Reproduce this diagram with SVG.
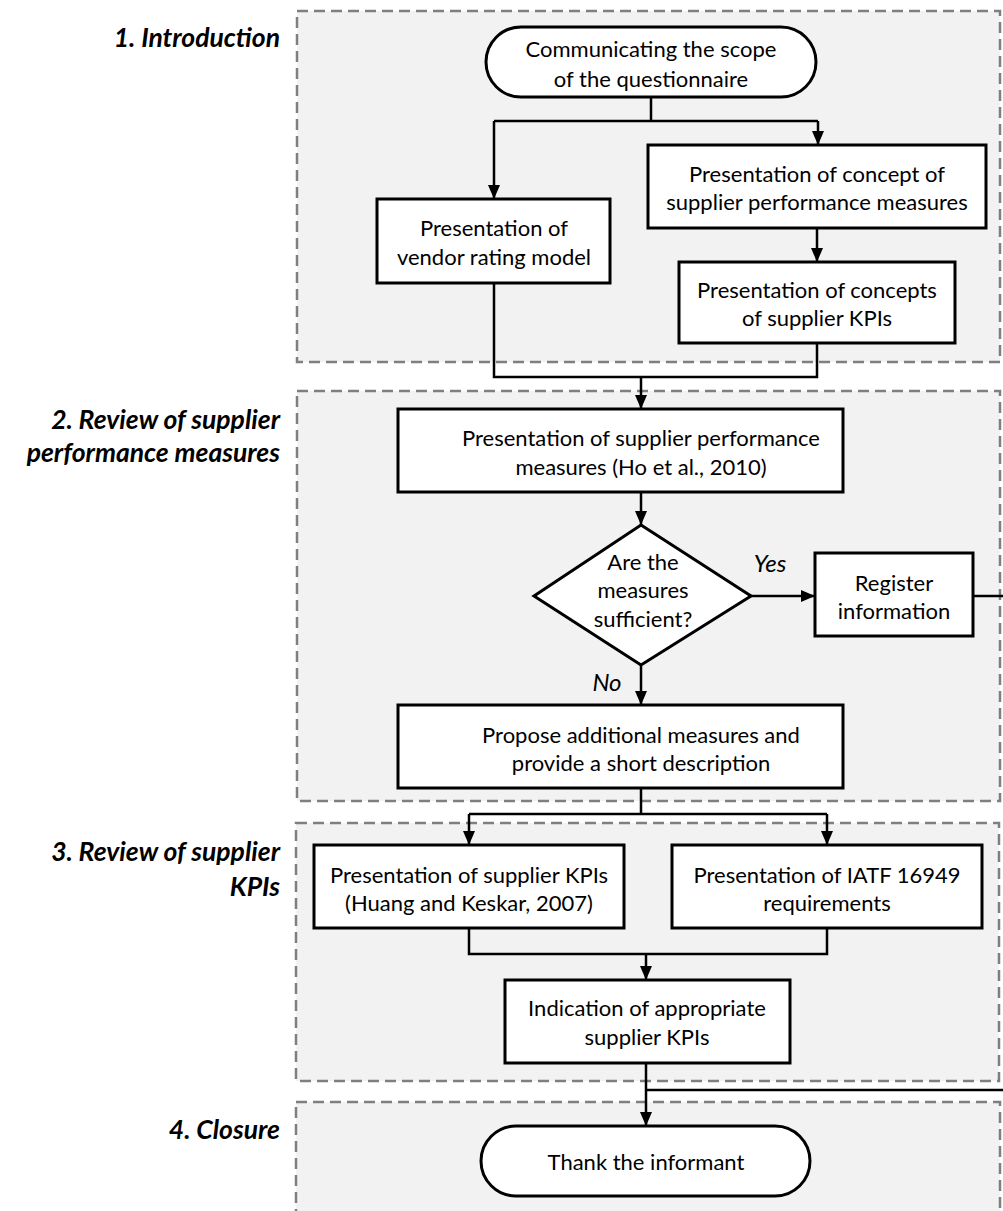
<svg xmlns="http://www.w3.org/2000/svg" width="1003" height="1211" viewBox="0 0 1003 1211">
  <defs>
    <marker id="arrow" viewBox="0 0 14 12" refX="14" refY="6" markerWidth="14" markerHeight="12" markerUnits="userSpaceOnUse" orient="auto">
      <path d="M0,0 L14,6 L0,12 Z" fill="#000"/>
    </marker>
    <style>
      .phase { fill: #f2f2f2; stroke: #7f7f7f; stroke-width: 2.5; stroke-dasharray: 11 6; }
      .box { fill: #fff; stroke: #000; stroke-width: 3; }
      .t { font-family: Lato, "Open Sans", "Noto Sans", sans-serif; font-size: 22px; fill: #000; text-anchor: middle; }
      .lbl { font-family: Lato, "Open Sans", "Noto Sans", sans-serif; font-size: 26.5px; font-weight: bold; font-style: italic; fill: #000; text-anchor: end; }
      .yn { font-family: Lato, "Open Sans", "Noto Sans", sans-serif; font-size: 24px; font-style: italic; fill: #000; text-anchor: middle; }
      .c { fill: none; stroke: #000; stroke-width: 2.5; }
      .ca { fill: none; stroke: #000; stroke-width: 2.5; marker-end: url(#arrow); }
    </style>
  </defs>
  <rect width="1003" height="1211" fill="#fff"/>

  <!-- phase frames -->
  <g id="phases">
    <rect class="phase" x="297" y="11" width="703" height="351"/>
    <rect class="phase" x="297" y="391" width="703" height="410"/>
    <rect class="phase" x="296" y="823" width="703" height="258"/>
    <rect class="phase" x="296" y="1102" width="704" height="120"/>
  </g>

  <!-- phase titles -->
  <g id="phase-labels">
    <text class="lbl" x="280" y="47">1. Introduction</text>
    <text class="lbl" x="280" y="429">2. Review of supplier</text>
    <text class="lbl" x="280" y="462">performance measures</text>
    <text class="lbl" x="280" y="861">3. Review of supplier</text>
    <text class="lbl" x="280" y="896">KPIs</text>
    <text class="lbl" x="280" y="1139">4. Closure</text>
  </g>

  <!-- connectors -->
  <g id="connectors">
    <path class="c" d="M651,97 V121 M494,121 H818"/>
    <path class="ca" d="M494,121 V199"/>
    <path class="ca" d="M818,121 V145"/>
    <path class="ca" d="M817,228 V262"/>
    <path class="c" d="M494,283 V377 H817 V343"/>
    <path class="ca" d="M641,377 V409"/>
    <path class="ca" d="M641,492 V525"/>
    <path class="ca" d="M751,596 H815"/>
    <path class="ca" d="M641,665 V705"/>
    <path class="c" d="M641,788 V814 M469,814 H827"/>
    <path class="ca" d="M469,814 V845"/>
    <path class="ca" d="M827,814 V845"/>
    <path class="c" d="M469,928 V954 H827 V928"/>
    <path class="ca" d="M646,954 V980"/>
    <path class="ca" d="M646,1063 V1126"/>
    <path class="c" d="M973,596 H1008 V1090 H646"/>
    <text class="yn" x="770" y="572">Yes</text>
    <text class="yn" x="607" y="691">No</text>
  </g>

  <!-- nodes -->
  <g id="start">
    <rect class="box" x="486" y="27" width="330" height="70" rx="35" ry="35"/>
    <text class="t" x="651" y="57">Communicating the scope</text>
    <text class="t" x="651" y="87">of the questionnaire</text>
  </g>
  <g id="vendor-rating">
    <rect class="box" x="377" y="199" width="233" height="84"/>
    <text class="t" x="494" y="236">Presentation of</text>
    <text class="t" x="494" y="265">vendor rating model</text>
  </g>
  <g id="concept-measures">
    <rect class="box" x="648" y="145" width="338" height="83"/>
    <text class="t" x="817" y="182">Presentation of concept of</text>
    <text class="t" x="817" y="210">supplier performance measures</text>
  </g>
  <g id="concept-kpis">
    <rect class="box" x="679" y="262" width="276" height="81"/>
    <text class="t" x="817" y="298">Presentation of concepts</text>
    <text class="t" x="817" y="326">of supplier KPIs</text>
  </g>
  <g id="measures-ho">
    <rect class="box" x="398" y="409" width="445" height="83"/>
    <text class="t" x="641" y="446">Presentation of supplier performance</text>
    <text class="t" x="641" y="475">measures (Ho et al., 2010)</text>
  </g>
  <g id="sufficient">
    <path class="box" d="M641,525 L751,596 L641,665 L534,596 Z"/>
    <text class="t" x="643" y="570">Are the</text>
    <text class="t" x="643" y="598">measures</text>
    <text class="t" x="643" y="627">sufficient?</text>
  </g>
  <g id="register">
    <rect class="box" x="815" y="553" width="158" height="83"/>
    <text class="t" x="894" y="591">Register</text>
    <text class="t" x="894" y="619">information</text>
  </g>
  <g id="propose">
    <rect class="box" x="398" y="705" width="445" height="83"/>
    <text class="t" x="641" y="743">Propose additional measures and</text>
    <text class="t" x="641" y="771">provide a short description</text>
  </g>
  <g id="kpis-huang">
    <rect class="box" x="314" y="845" width="310" height="83"/>
    <text class="t" x="469" y="883">Presentation of supplier KPIs</text>
    <text class="t" x="469" y="911">(Huang and Keskar, 2007)</text>
  </g>
  <g id="iatf">
    <rect class="box" x="672" y="845" width="310" height="83"/>
    <text class="t" x="827" y="883">Presentation of IATF 16949</text>
    <text class="t" x="827" y="911">requirements</text>
  </g>
  <g id="indication">
    <rect class="box" x="505" y="980" width="285" height="83"/>
    <text class="t" x="647" y="1016">Indication of appropriate</text>
    <text class="t" x="647" y="1045">supplier KPIs</text>
  </g>
  <g id="end">
    <rect class="box" x="481" y="1126" width="329" height="70" rx="35" ry="35"/>
    <text class="t" x="646" y="1170">Thank the informant</text>
  </g>
</svg>
